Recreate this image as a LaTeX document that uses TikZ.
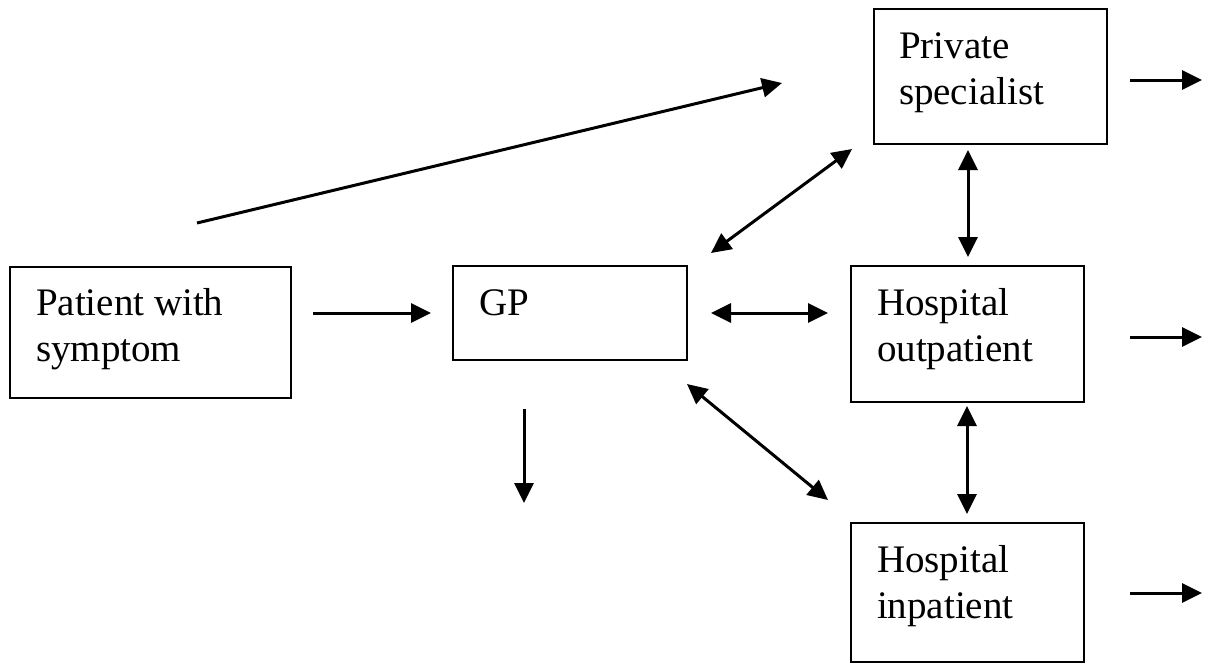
\documentclass[tikz,border=0pt]{standalone}
\usepackage{fontspec}
\setmainfont{Liberation Serif}
\usetikzlibrary{arrows.meta}
\tikzset{
  box/.style={draw=black, line width=2pt, rectangle, anchor=north west, inner sep=0pt, outer sep=0pt},
  lbl/.style={anchor=base west, inner sep=0pt, outer sep=0pt, font=\fontsize{39}{46}\selectfont},
  conn/.style={line width=3pt, -{Triangle[length=20pt,width=19pt]}},
  dconn/.style={line width=3pt, {Triangle[length=20pt,width=19pt]}-{Triangle[length=20pt,width=19pt]}}
}
\begin{document}
\begin{tikzpicture}[x=1pt,y=-1pt]
\useasboundingbox (0,0) rectangle (1219,664);
% boxes
\node[box, minimum width=281pt, minimum height=131pt] (patient) at (10,267) {};
\node[box, minimum width=234pt, minimum height=94pt] (gp) at (453,266) {};
\node[box, minimum width=233pt, minimum height=135pt] (private) at (874,9) {};
\node[box, minimum width=233pt, minimum height=136pt] (outpat) at (851,266) {};
\node[box, minimum width=233pt, minimum height=139pt] (inpat) at (851,523) {};
% labels
\node[lbl] (patientT) at (36,315) {\vtop{\hbox{Patient with}\hbox{symptom}}};
\node[lbl] (gpT) at (479,315) {GP};
\node[lbl] (privateT) at (899,58) {\vtop{\hbox{Private}\hbox{specialist}}};
\node[lbl] (outpatT) at (877,315) {\vtop{\hbox{Hospital}\hbox{outpatient}}};
\node[lbl] (inpatT) at (877,572) {\vtop{\hbox{Hospital}\hbox{inpatient}}};
% arrow endpoints
\coordinate (a1s) at (197,223); \coordinate (a1e) at (782,83);
\coordinate (a2s) at (313,313); \coordinate (a2e) at (431,313);
\coordinate (a3s) at (711,313); \coordinate (a3e) at (828,313);
\coordinate (a4s) at (711,253); \coordinate (a4e) at (852,149);
\coordinate (a5s) at (687,384); \coordinate (a5e) at (828,500);
\coordinate (a6s) at (524,409); \coordinate (a6e) at (524,503);
\coordinate (a7s) at (968,150); \coordinate (a7e) at (968,257);
\coordinate (a8s) at (967,406); \coordinate (a8e) at (967,514);
\coordinate (a9s) at (1130,80); \coordinate (a9e) at (1202,80);
\coordinate (a10s) at (1130,337); \coordinate (a10e) at (1202,337);
\coordinate (a11s) at (1130,593); \coordinate (a11e) at (1202,593);
% connectors
\draw[conn] (a1s) -- (a1e);
\draw[conn] (a2s) -- (a2e);
\draw[dconn] (a3s) -- (a3e);
\draw[dconn] (a4s) -- (a4e);
\draw[dconn] (a5s) -- (a5e);
\draw[conn] (a6s) -- (a6e);
\draw[dconn] (a7s) -- (a7e);
\draw[dconn] (a8s) -- (a8e);
\draw[conn] (a9s) -- (a9e);
\draw[conn] (a10s) -- (a10e);
\draw[conn] (a11s) -- (a11e);
\end{tikzpicture}
\end{document}
